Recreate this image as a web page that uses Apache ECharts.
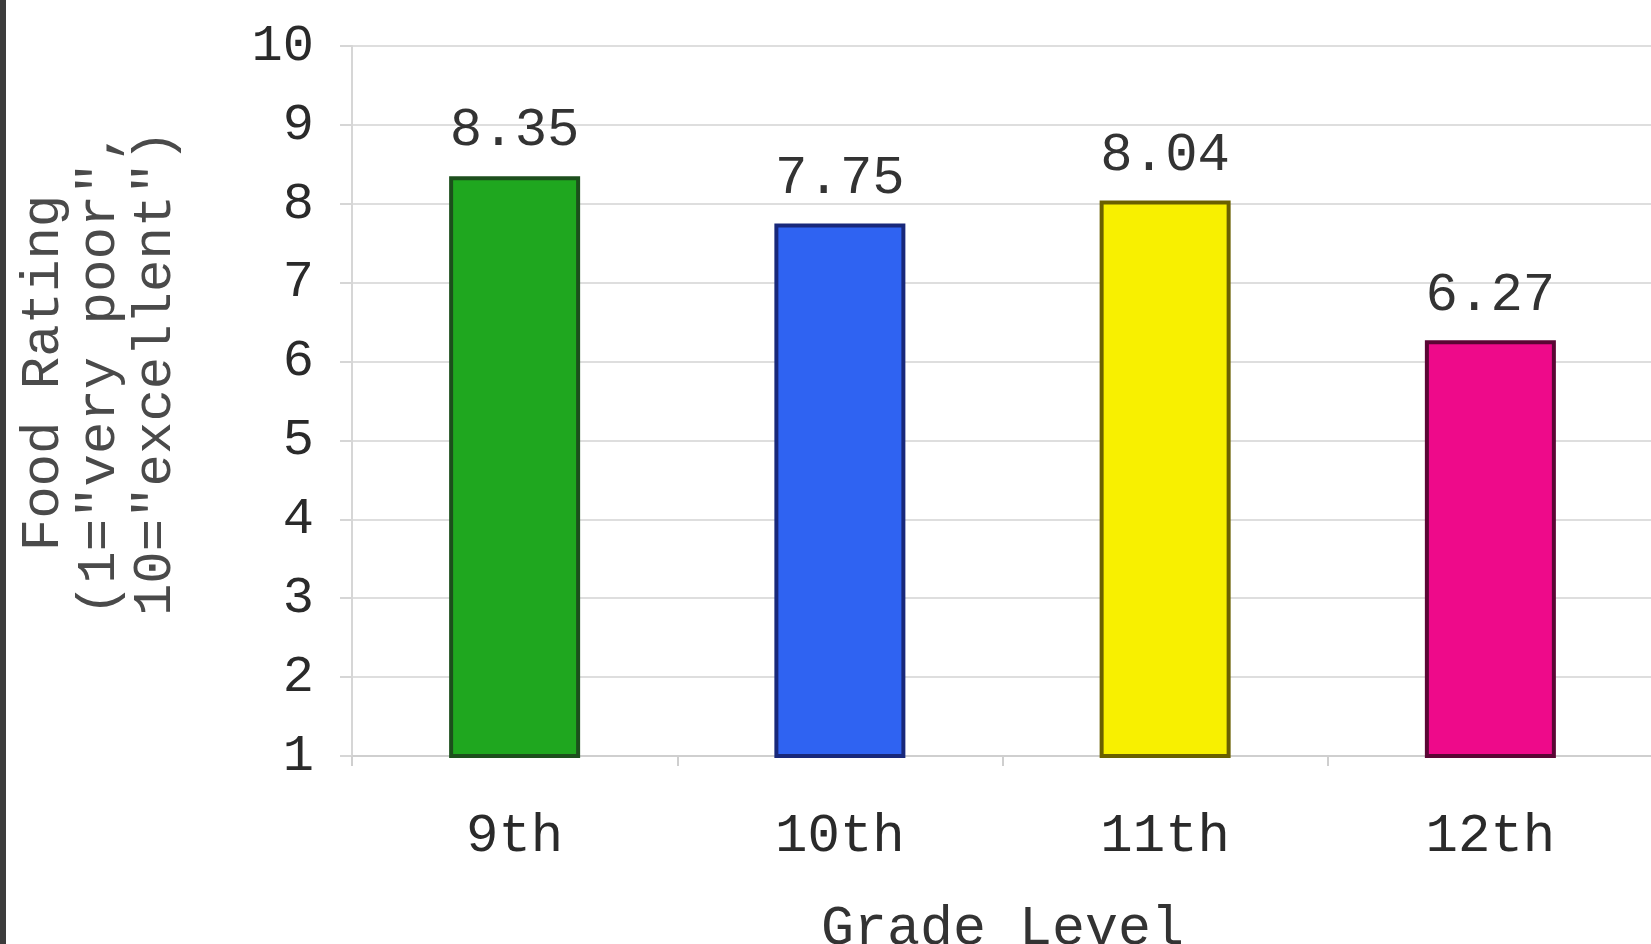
<!DOCTYPE html>
<html>
<head>
<meta charset="utf-8">
<title>Food Rating by Grade Level</title>
<script src="https://cdn.jsdelivr.net/npm/echarts@6/dist/echarts.min.js"></script>
<style>
  html, body { margin: 0; padding: 0; background: #fff; }
  #chart { width: 1651px; height: 944px; }
</style>
</head>
<body>
<div id="chart"></div>
<script>
// grade levels on the x axis
const grades = ['9th', '10th', '11th', '12th'];
// average food rating per grade
const ratings = [8.35, 7.75, 8.04, 6.27];
// fill and outline colour of each bar
const barColors = ['#1fa71f', '#2f63f2', '#f8f000', '#ee0a8a'];
const barBorders = ['#1c4f1c', '#18287a', '#6a6000', '#5a0634'];
// y axis ticks
const yMin = 1;
const yMax = 10;
const yStep = 1;

const mono = '"Liberation Mono", "DejaVu Sans Mono", monospace';

const chart = echarts.init(document.getElementById('chart'));

const option = {
  backgroundColor: '#fff',
  animation: false,
  grid: {
    left: 352,
    right: -2,
    top: 46,
    bottom: 188,
    containLabel: false,
    outerBoundsMode: 'none'
  },
  // dark frame line on the left edge
  graphic: [
    {
      type: 'rect',
      left: 0,
      top: 0,
      shape: { width: 6, height: 944 },
      style: { fill: '#3c3c3c' }
    }
  ],
  xAxis: {
    type: 'category',
    data: grades,
    name: 'Grade Level',
    nameLocation: 'middle',
    nameGap: 146,
    nameTextStyle: { fontFamily: mono, fontSize: 55, color: '#333' },
    axisLine: { lineStyle: { color: '#cfcfcf', width: 2 } },
    axisTick: { show: true, length: 10, lineStyle: { color: '#cfcfcf', width: 2 } },
    axisLabel: { fontFamily: mono, fontSize: 54, color: '#2a2a2a', margin: 54 }
  },
  yAxis: {
    type: 'value',
    min: yMin,
    max: yMax,
    interval: yStep,
    name: 'Food Rating\n(1="very poor",\n10="excellent")',
    nameLocation: 'middle',
    nameRotate: 90,
    nameGap: 168,
    nameTextStyle: {
      fontFamily: mono,
      fontSize: 54,
      lineHeight: 56,
      color: '#4a4a4a',
      align: 'center',
      padding: [0, 0, 0, 56]
    },
    axisLine: { show: true, lineStyle: { color: '#d6d6d6', width: 2 } },
    axisTick: { show: true, length: 12, lineStyle: { color: '#d6d6d6', width: 2 } },
    axisLabel: { fontFamily: mono, fontSize: 52, color: '#2a2a2a', margin: 38 },
    splitLine: { lineStyle: { color: '#dedede', width: 2 } }
  },
  series: [
    {
      type: 'bar',
      barWidth: 131,
      data: ratings.map((v, i) => ({
        value: v,
        itemStyle: {
          color: barColors[i],
          borderColor: barBorders[i],
          borderWidth: 4
        }
      })),
      label: {
        show: true,
        position: 'top',
        distance: 18,
        fontFamily: mono,
        fontSize: 54,
        color: '#333',
        formatter: p => p.value.toFixed(2)
      }
    }
  ]
};

chart.setOption(option);
</script>
</body>
</html>
